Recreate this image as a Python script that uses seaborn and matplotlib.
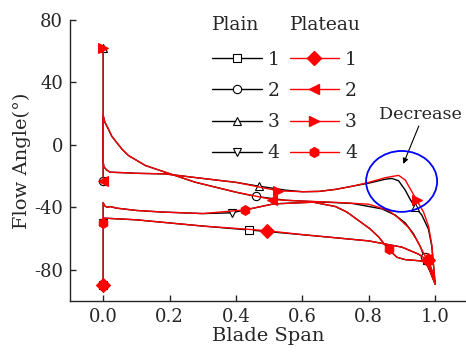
import matplotlib
matplotlib.use("Agg")
import matplotlib.pyplot as plt
from matplotlib.lines import Line2D
from matplotlib.patches import Ellipse
import seaborn as sns
import pandas as pd

# Flow angle along the blade span: plain (smooth) casing vs. plateau casing
span_plain_1 = [0, 0, 0.01, 0.1, 0.2, 0.3, 0.44, 0.6, 0.7, 0.8, 0.9, 0.95, 0.975, 0.985, 0.995, 1.0]
angle_plain_1 = [-90, -47, -47, -48, -50, -52, -54.5, -57.5, -59.5, -61.5, -65.5, -70, -73.5, -78, -83, -89]

span_plain_2 = [0, 0, 0.005, 0.016, 0.026, 0.056, 0.076, 0.127, 0.187, 0.277, 0.4, 0.46, 0.55, 0.65,
                0.75, 0.84, 0.88, 0.91, 0.935, 0.955, 0.968, 0.98, 0.99, 1.0]
angle_plain_2 = [-23, 18.8, 14.5, 10, 5.5, -2.6, -6.8, -13.2, -17.5, -23.9, -30.3, -33, -35.5, -36.5,
                 -37.5, -41, -45, -50, -57, -65, -72, -79, -83, -89]

span_plain_3 = [0, 0, 0.002, 0.01, 0.021, 0.06, 0.1, 0.187, 0.3, 0.4, 0.47, 0.55, 0.6, 0.65, 0.7, 0.75,
                0.8, 0.85, 0.87, 0.89, 0.91, 0.925, 0.94, 0.96, 0.98, 0.99, 1.0]
angle_plain_3 = [62, -11, -14, -16, -17.5, -17.8, -18.2, -18.6, -21.5, -24, -26.5, -29, -30, -29.8, -28.5,
                 -26.5, -24.5, -22, -21.5, -23, -29, -35, -40, -45, -54, -65, -89]

span_plain_4 = [0, 0, 0.004, 0.012, 0.021, 0.04, 0.1, 0.177, 0.3, 0.387, 0.513, 0.633, 0.7, 0.734,
                0.804, 0.83, 0.86, 0.885, 0.91, 0.94, 0.965, 0.98, 0.99, 1.0]
angle_plain_4 = [-50, -37, -39, -40, -39.5, -40.5, -42, -43, -44, -43.5, -37.8, -36.7, -39.5, -43,
                 -53.8, -59, -67, -72, -73.5, -74, -74.5, -78, -84, -89]

span_plateau_1 = [0, 0, 0.01, 0.1, 0.2, 0.3, 0.4, 0.494, 0.6, 0.7, 0.8, 0.9, 0.95, 0.978, 0.987, 0.995, 1.0]
angle_plateau_1 = [-90, -47, -47, -48, -50, -52, -53.5, -55, -57.5, -59.5, -61.5, -65.5, -70, -74, -78, -83, -89]

span_plateau_2 = [0, 0, 0.005, 0.016, 0.026, 0.056, 0.076, 0.127, 0.187, 0.277, 0.4, 0.51, 0.6, 0.7,
                  0.8, 0.86, 0.89, 0.92, 0.945, 0.962, 0.975, 0.985, 0.993, 1.0]
angle_plateau_2 = [-23, 18.8, 14.5, 10, 5.5, -2.6, -6.8, -13.2, -17.5, -23.9, -30.3, -35, -36, -36.8,
                   -38, -42, -47, -53, -61, -68, -73, -79, -83, -89]

span_plateau_3 = [0, 0, 0.002, 0.01, 0.021, 0.06, 0.1, 0.187, 0.3, 0.4, 0.527, 0.6, 0.65, 0.7, 0.75,
                  0.8, 0.85, 0.89, 0.91, 0.93, 0.945, 0.965, 0.98, 0.99, 1.0]
angle_plateau_3 = [62, -11, -14, -16, -17.5, -17.8, -18.2, -18.6, -21.5, -24, -29.4, -30, -29.8, -28.5,
                   -26.5, -24, -21, -19.5, -22.5, -30, -35.6, -43, -52, -64, -89]

span_plateau_4 = [0, 0, 0.004, 0.012, 0.021, 0.04, 0.1, 0.177, 0.3, 0.428, 0.513, 0.633, 0.7, 0.734,
                  0.804, 0.83, 0.86, 0.885, 0.91, 0.94, 0.965, 0.98, 0.99, 1.0]
angle_plateau_4 = [-50, -37, -39, -40, -39.5, -40.5, -42, -43, -44, -41.6, -37.8, -36.7, -39.5, -43,
                   -53.8, -59, -67, -72, -73.5, -74, -74.5, -78, -84, -89]

series_labels = ["1", "2", "3", "4"]
x_ticks = [0.0, 0.2, 0.4, 0.6, 0.8, 1.0]
y_ticks = [-80, -40, 0, 40, 80]

plain = [(span_plain_1, angle_plain_1), (span_plain_2, angle_plain_2),
         (span_plain_3, angle_plain_3), (span_plain_4, angle_plain_4)]
plateau = [(span_plateau_1, angle_plateau_1), (span_plateau_2, angle_plateau_2),
           (span_plateau_3, angle_plateau_3), (span_plateau_4, angle_plateau_4)]

plain_markers = ["s", "o", "^", "v"]
plateau_markers = ["D", "<", ">", "h"]
plain_every = [[0, 6, 12], [0, 11, 20], [0, 10, 22], [0, 9, 16]]
plateau_every = [[0, 7, 13], [0, 11, 20], [0, 10, 20], [0, 9, 16]]

sns.set_style("ticks", {"xtick.direction": "in", "ytick.direction": "in"})
plt.rcParams["font.family"] = ["DejaVu Serif"]

fig = plt.figure(figsize=(4.66, 3.52), dpi=100)
ax = fig.add_axes([70 / 466, 51 / 352, 396 / 466, 281 / 352])

for (xs, ys), m, ev in zip(plain, plain_markers, plain_every):
    df = pd.DataFrame({"span": xs, "angle": ys})
    sns.lineplot(data=df, x="span", y="angle", sort=False, estimator=None, ax=ax,
                 color="black", lw=1.0, marker=m, markevery=ev, markersize=6,
                 markerfacecolor="white", markeredgecolor="black", markeredgewidth=0.8,
                 zorder=2)

for (xs, ys), m, ev in zip(plateau, plateau_markers, plateau_every):
    df = pd.DataFrame({"span": xs, "angle": ys})
    sns.lineplot(data=df, x="span", y="angle", sort=False, estimator=None, ax=ax,
                 color="red", lw=1.0, marker=m, markevery=ev, markersize=7,
                 markerfacecolor="red", markeredgecolor="red", markeredgewidth=0.8,
                 zorder=3)

ax.set_xlim(-0.1, 1.093)
ax.set_ylim(-100, 80)
ax.set_xticks(x_ticks)
ax.set_xticklabels([f"{v:.1f}" for v in x_ticks])
ax.set_yticks(y_ticks)
ax.set_yticklabels([str(v) for v in y_ticks])
ax.tick_params(direction="in", length=4, width=1.0, labelsize=13, pad=5)
ax.set_xlabel("Blade Span", fontsize=14, labelpad=1)
ax.set_ylabel("Flow Angle(°)", fontsize=14, labelpad=2)
sns.despine(ax=ax)
for s in ["left", "bottom"]:
    ax.spines[s].set_linewidth(1.0)

# Highlight of the hump near the tip
ax.add_patch(Ellipse((0.899, -23.4), 0.214, 39, fill=False, edgecolor="blue", lw=1.3, zorder=4))
ax.annotate("Decrease", xy=(0.904, -12.2), xytext=(0.83, 19.6), fontsize=12.6,
            ha="left", va="center",
            arrowprops=dict(arrowstyle="-|>", color="black", lw=0.8,
                            shrinkA=0, shrinkB=0, mutation_scale=8,
                            relpos=(0.5, 0.0)))

# Two-column legend with column headers
handles, labels = [], []
for m, lab in zip(plain_markers, series_labels):
    handles.append(Line2D([], [], color="black", lw=1.0, marker=m, markersize=6,
                          markerfacecolor="white", markeredgecolor="black", markeredgewidth=0.8))
    labels.append(lab)
for m, lab in zip(plateau_markers, series_labels):
    handles.append(Line2D([], [], color="red", lw=1.0, marker=m, markersize=7,
                          markerfacecolor="red", markeredgecolor="red"))
    labels.append(lab)
ax.legend(handles, labels, ncol=2, frameon=False, loc="upper left",
          bbox_to_anchor=(0.3586, 0.89), borderpad=0, borderaxespad=0,
          handlelength=2.65, handletextpad=0.3, columnspacing=0.55,
          labelspacing=0.7, fontsize=13.5)
ax.text(0.3586, 0.982, "Plain", transform=ax.transAxes, fontsize=13.5, ha="left", va="center")
ax.text(0.5556, 0.982, "Plateau", transform=ax.transAxes, fontsize=13.5, ha="left", va="center")

fig.savefig("out.png", dpi=100)
